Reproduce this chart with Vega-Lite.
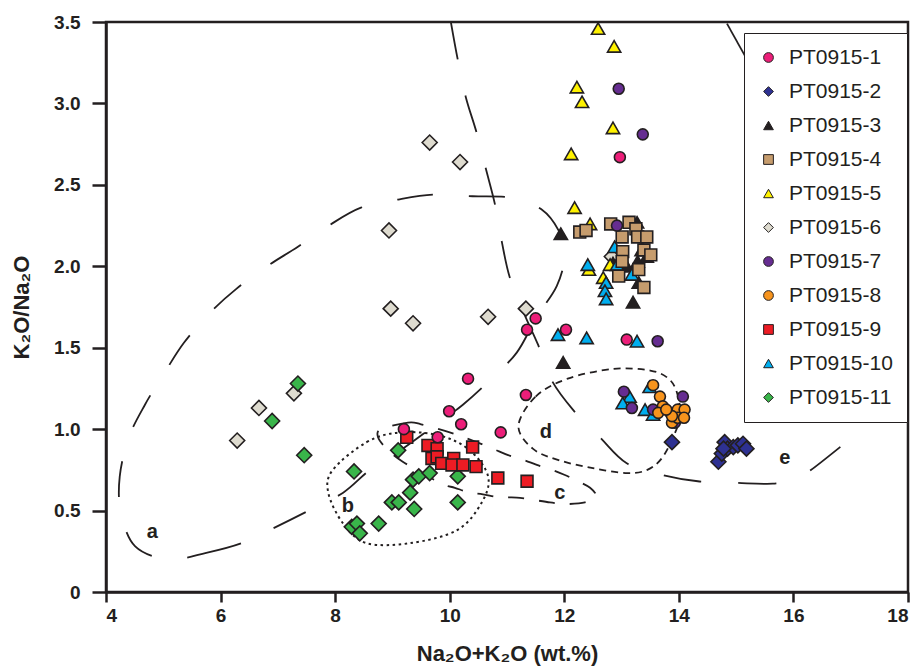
{
  "$schema": "https://vega.github.io/schema/vega-lite/v6.json",
  "width": 802,
  "height": 570,
  "autosize": "none",
  "padding": {"left": 106, "top": 22, "right": 11, "bottom": 75},
  "background": "white",
  "config": {
    "font": "Liberation Sans",
    "view": {"stroke": "#231F20", "strokeWidth": 2.5},
    "axis": {
      "grid": false,
      "domainColor": "#231F20",
      "domainWidth": 2.5,
      "tickColor": "#231F20",
      "tickWidth": 2.5,
      "labelFont": "Liberation Sans",
      "labelFontWeight": "bold",
      "labelFontSize": 19,
      "labelColor": "#231F20",
      "titleFont": "Liberation Sans",
      "titleFontWeight": "bold",
      "titleFontSize": 22,
      "titleColor": "#231F20"
    },
    "legend": {
      "orient": "none",
      "legendX": 638,
      "legendY": 11,
      "padding": 14,
      "strokeColor": "#231F20",
      "fillColor": "white",
      "labelFont": "Liberation Sans",
      "labelFontSize": 21,
      "labelColor": "#231F20",
      "labelLimit": 200,
      "labelOffset": 10,
      "rowPadding": 12,
      "symbolSize": 95,
      "symbolStrokeColor": "#231F20",
      "symbolStrokeWidth": 1
    }
  },
  "datasets": {
    "pts": [
      {"x": 12.97, "y": 2.67, "s": "PT0915-1"}, {"x": 11.35, "y": 1.61, "s": "PT0915-1"}, {"x": 11.5, "y": 1.68, "s": "PT0915-1"}, {"x": 12.03, "y": 1.61, "s": "PT0915-1"}, {"x": 13.09, "y": 1.55, "s": "PT0915-1"}, {"x": 11.33, "y": 1.21, "s": "PT0915-1"}, {"x": 10.89, "y": 0.98, "s": "PT0915-1"}, {"x": 9.99, "y": 1.11, "s": "PT0915-1"}, {"x": 10.2, "y": 1.03, "s": "PT0915-1"}, {"x": 9.2, "y": 1.0, "s": "PT0915-1"}, {"x": 9.79, "y": 0.95, "s": "PT0915-1"}, {"x": 10.32, "y": 1.31, "s": "PT0915-1"},
      {"x": 13.88, "y": 0.92, "s": "PT0915-2"}, {"x": 14.69, "y": 0.8, "s": "PT0915-2"}, {"x": 14.75, "y": 0.85, "s": "PT0915-2"}, {"x": 14.8, "y": 0.92, "s": "PT0915-2"}, {"x": 14.85, "y": 0.88, "s": "PT0915-2"}, {"x": 14.95, "y": 0.89, "s": "PT0915-2"}, {"x": 15.03, "y": 0.9, "s": "PT0915-2"}, {"x": 15.12, "y": 0.91, "s": "PT0915-2"}, {"x": 15.18, "y": 0.88, "s": "PT0915-2"}, {"x": 14.78, "y": 0.88, "s": "PT0915-2"},
      {"x": 11.94, "y": 2.2, "s": "PT0915-3"}, {"x": 11.98, "y": 1.41, "s": "PT0915-3"}, {"x": 13.2, "y": 1.78, "s": "PT0915-3"}, {"x": 13.27, "y": 2.27, "s": "PT0915-3"}, {"x": 13.28, "y": 2.03, "s": "PT0915-3"}, {"x": 13.44, "y": 2.06, "s": "PT0915-3"}, {"x": 13.09, "y": 2.0, "s": "PT0915-3"}, {"x": 13.3, "y": 1.9, "s": "PT0915-3"}, {"x": 12.85, "y": 2.02, "s": "PT0915-3"}, {"x": 13.35, "y": 2.1, "s": "PT0915-3"},
      {"x": 12.27, "y": 2.21, "s": "PT0915-4"}, {"x": 12.38, "y": 2.22, "s": "PT0915-4"}, {"x": 12.81, "y": 2.26, "s": "PT0915-4"}, {"x": 13.13, "y": 2.27, "s": "PT0915-4"}, {"x": 13.25, "y": 2.23, "s": "PT0915-4"}, {"x": 13.01, "y": 2.18, "s": "PT0915-4"}, {"x": 13.28, "y": 2.18, "s": "PT0915-4"}, {"x": 13.44, "y": 2.18, "s": "PT0915-4"}, {"x": 13.02, "y": 2.09, "s": "PT0915-4"}, {"x": 13.39, "y": 2.1, "s": "PT0915-4"}, {"x": 13.51, "y": 2.07, "s": "PT0915-4"}, {"x": 13.01, "y": 2.03, "s": "PT0915-4"}, {"x": 13.3, "y": 1.98, "s": "PT0915-4"}, {"x": 12.95, "y": 1.94, "s": "PT0915-4"}, {"x": 13.39, "y": 1.87, "s": "PT0915-4"},
      {"x": 12.59, "y": 3.46, "s": "PT0915-5"}, {"x": 12.87, "y": 3.35, "s": "PT0915-5"}, {"x": 12.22, "y": 3.1, "s": "PT0915-5"}, {"x": 12.31, "y": 3.01, "s": "PT0915-5"}, {"x": 12.85, "y": 2.85, "s": "PT0915-5"}, {"x": 12.12, "y": 2.69, "s": "PT0915-5"}, {"x": 12.18, "y": 2.36, "s": "PT0915-5"}, {"x": 12.45, "y": 2.26, "s": "PT0915-5"}, {"x": 12.68, "y": 1.93, "s": "PT0915-5"}, {"x": 12.8, "y": 2.01, "s": "PT0915-5"}, {"x": 12.43, "y": 1.98, "s": "PT0915-5"},
      {"x": 9.65, "y": 2.76, "s": "PT0915-6"}, {"x": 10.18, "y": 2.64, "s": "PT0915-6"}, {"x": 8.94, "y": 2.22, "s": "PT0915-6"}, {"x": 8.97, "y": 1.74, "s": "PT0915-6"}, {"x": 9.36, "y": 1.65, "s": "PT0915-6"}, {"x": 10.67, "y": 1.69, "s": "PT0915-6"}, {"x": 11.33, "y": 1.74, "s": "PT0915-6"}, {"x": 7.28, "y": 1.22, "s": "PT0915-6"}, {"x": 6.67, "y": 1.13, "s": "PT0915-6"}, {"x": 6.29, "y": 0.93, "s": "PT0915-6"}, {"x": 12.83, "y": 2.06, "s": "PT0915-6"},
      {"x": 12.95, "y": 3.09, "s": "PT0915-7"}, {"x": 13.37, "y": 2.81, "s": "PT0915-7"}, {"x": 12.92, "y": 2.25, "s": "PT0915-7"}, {"x": 13.63, "y": 1.54, "s": "PT0915-7"}, {"x": 13.04, "y": 1.23, "s": "PT0915-7"}, {"x": 13.18, "y": 1.13, "s": "PT0915-7"}, {"x": 14.07, "y": 1.2, "s": "PT0915-7"}, {"x": 13.55, "y": 1.12, "s": "PT0915-7"}, {"x": 13.93, "y": 1.04, "s": "PT0915-7"},
      {"x": 13.55, "y": 1.27, "s": "PT0915-8"}, {"x": 13.67, "y": 1.2, "s": "PT0915-8"}, {"x": 13.72, "y": 1.14, "s": "PT0915-8"}, {"x": 13.64, "y": 1.1, "s": "PT0915-8"}, {"x": 13.85, "y": 1.1, "s": "PT0915-8"}, {"x": 13.98, "y": 1.12, "s": "PT0915-8"}, {"x": 14.1, "y": 1.12, "s": "PT0915-8"}, {"x": 13.88, "y": 1.04, "s": "PT0915-8"}, {"x": 13.98, "y": 1.07, "s": "PT0915-8"}, {"x": 14.09, "y": 1.07, "s": "PT0915-8"}, {"x": 13.88, "y": 1.08, "s": "PT0915-8"}, {"x": 13.78, "y": 1.12, "s": "PT0915-8"},
      {"x": 9.25, "y": 0.95, "s": "PT0915-9"}, {"x": 9.62, "y": 0.9, "s": "PT0915-9"}, {"x": 9.78, "y": 0.88, "s": "PT0915-9"}, {"x": 9.69, "y": 0.82, "s": "PT0915-9"}, {"x": 9.78, "y": 0.83, "s": "PT0915-9"}, {"x": 9.86, "y": 0.79, "s": "PT0915-9"}, {"x": 10.07, "y": 0.82, "s": "PT0915-9"}, {"x": 10.04, "y": 0.78, "s": "PT0915-9"}, {"x": 10.23, "y": 0.78, "s": "PT0915-9"}, {"x": 10.4, "y": 0.89, "s": "PT0915-9"}, {"x": 10.46, "y": 0.77, "s": "PT0915-9"}, {"x": 10.84, "y": 0.7, "s": "PT0915-9"}, {"x": 11.35, "y": 0.68, "s": "PT0915-9"},
      {"x": 11.89, "y": 1.58, "s": "PT0915-10"}, {"x": 12.39, "y": 1.56, "s": "PT0915-10"}, {"x": 13.27, "y": 1.54, "s": "PT0915-10"}, {"x": 13.49, "y": 1.26, "s": "PT0915-10"}, {"x": 13.14, "y": 1.2, "s": "PT0915-10"}, {"x": 13.02, "y": 1.16, "s": "PT0915-10"}, {"x": 13.41, "y": 1.12, "s": "PT0915-10"}, {"x": 13.55, "y": 1.09, "s": "PT0915-10"}, {"x": 12.41, "y": 2.01, "s": "PT0915-10"}, {"x": 12.88, "y": 2.12, "s": "PT0915-10"}, {"x": 12.92, "y": 2.01, "s": "PT0915-10"}, {"x": 13.18, "y": 1.95, "s": "PT0915-10"}, {"x": 12.73, "y": 1.9, "s": "PT0915-10"}, {"x": 12.71, "y": 1.85, "s": "PT0915-10"}, {"x": 12.73, "y": 1.8, "s": "PT0915-10"},
      {"x": 7.35, "y": 1.28, "s": "PT0915-11"}, {"x": 6.9, "y": 1.05, "s": "PT0915-11"}, {"x": 7.46, "y": 0.84, "s": "PT0915-11"}, {"x": 8.33, "y": 0.74, "s": "PT0915-11"}, {"x": 9.1, "y": 0.87, "s": "PT0915-11"}, {"x": 8.29, "y": 0.4, "s": "PT0915-11"}, {"x": 8.38, "y": 0.42, "s": "PT0915-11"}, {"x": 8.43, "y": 0.36, "s": "PT0915-11"}, {"x": 8.76, "y": 0.42, "s": "PT0915-11"}, {"x": 8.99, "y": 0.55, "s": "PT0915-11"}, {"x": 9.11, "y": 0.55, "s": "PT0915-11"}, {"x": 9.31, "y": 0.61, "s": "PT0915-11"}, {"x": 9.38, "y": 0.51, "s": "PT0915-11"}, {"x": 9.36, "y": 0.69, "s": "PT0915-11"}, {"x": 9.46, "y": 0.71, "s": "PT0915-11"}, {"x": 9.65, "y": 0.73, "s": "PT0915-11"}, {"x": 10.14, "y": 0.71, "s": "PT0915-11"}, {"x": 10.14, "y": 0.55, "s": "PT0915-11"}
    ],
    "fieldA": [
      {"i": 1, "x": 5.1, "y": 0.2}, {"i": 2, "x": 5.75, "y": 0.24}, {"i": 3, "x": 6.37, "y": 0.3}, {"i": 4, "x": 6.97, "y": 0.4}, {"i": 5, "x": 7.54, "y": 0.5}, {"i": 6, "x": 8.14, "y": 0.61}, {"i": 7, "x": 8.61, "y": 0.75}, {"i": 8, "x": 9.18, "y": 0.88}, {"i": 9, "x": 9.69, "y": 1.01}, {"i": 10, "x": 10.23, "y": 1.15}, {"i": 11, "x": 10.7, "y": 1.3}, {"i": 12, "x": 11.17, "y": 1.47}, {"i": 13, "x": 11.52, "y": 1.69}, {"i": 14, "x": 11.87, "y": 1.88}, {"i": 15, "x": 12.01, "y": 2.07}, {"i": 16, "x": 11.9, "y": 2.22}, {"i": 17, "x": 11.6, "y": 2.35}, {"i": 18, "x": 11.1, "y": 2.42}, {"i": 19, "x": 10.4, "y": 2.43}, {"i": 20, "x": 9.72, "y": 2.44}, {"i": 21, "x": 9.1, "y": 2.41}, {"i": 22, "x": 8.45, "y": 2.36}, {"i": 23, "x": 7.89, "y": 2.25}, {"i": 24, "x": 7.35, "y": 2.12}, {"i": 25, "x": 6.81, "y": 2.0}, {"i": 26, "x": 6.27, "y": 1.86}, {"i": 27, "x": 5.8, "y": 1.71}, {"i": 28, "x": 5.36, "y": 1.53}, {"i": 29, "x": 5.01, "y": 1.34}, {"i": 30, "x": 4.68, "y": 1.15}, {"i": 31, "x": 4.4, "y": 0.95}, {"i": 32, "x": 4.24, "y": 0.71}, {"i": 33, "x": 4.26, "y": 0.49}, {"i": 34, "x": 4.51, "y": 0.28}
    ],
    "fieldB": [
      {"i": 1, "x": 7.96, "y": 0.75}, {"i": 2, "x": 8.55, "y": 0.92}, {"i": 3, "x": 9.13, "y": 0.98}, {"i": 4, "x": 9.83, "y": 0.96}, {"i": 5, "x": 10.35, "y": 0.87}, {"i": 6, "x": 10.67, "y": 0.71}, {"i": 7, "x": 10.56, "y": 0.55}, {"i": 8, "x": 10.13, "y": 0.38}, {"i": 9, "x": 9.31, "y": 0.3}, {"i": 10, "x": 8.55, "y": 0.3}, {"i": 11, "x": 8.14, "y": 0.42}, {"i": 12, "x": 7.88, "y": 0.61}
    ],
    "fieldC": [
      {"i": 1, "x": 8.8, "y": 1.0}, {"i": 2, "x": 9.27, "y": 1.04}, {"i": 3, "x": 9.5, "y": 1.03}, {"i": 4, "x": 10.0, "y": 0.98}, {"i": 5, "x": 10.4, "y": 0.93}, {"i": 6, "x": 10.75, "y": 0.88}, {"i": 7, "x": 11.02, "y": 0.84}, {"i": 8, "x": 11.3, "y": 0.81}, {"i": 9, "x": 11.52, "y": 0.78}, {"i": 10, "x": 11.78, "y": 0.75}, {"i": 11, "x": 12.0, "y": 0.72}, {"i": 12, "x": 12.24, "y": 0.68}, {"i": 13, "x": 12.45, "y": 0.64}, {"i": 14, "x": 12.55, "y": 0.59}, {"i": 15, "x": 12.36, "y": 0.55}, {"i": 16, "x": 12.0, "y": 0.54}, {"i": 17, "x": 11.75, "y": 0.55}, {"i": 18, "x": 11.17, "y": 0.58}, {"i": 19, "x": 10.88, "y": 0.58}, {"i": 20, "x": 10.58, "y": 0.6}, {"i": 21, "x": 10.35, "y": 0.61}, {"i": 22, "x": 10.09, "y": 0.64}, {"i": 23, "x": 9.83, "y": 0.67}, {"i": 24, "x": 9.18, "y": 0.8}, {"i": 25, "x": 8.9, "y": 0.88}, {"i": 26, "x": 8.75, "y": 0.95}
    ],
    "fieldD": [
      {"i": 1, "x": 11.2, "y": 1.02}, {"i": 2, "x": 11.5, "y": 1.2}, {"i": 3, "x": 12.06, "y": 1.31}, {"i": 4, "x": 12.86, "y": 1.37}, {"i": 5, "x": 13.5, "y": 1.36}, {"i": 6, "x": 13.82, "y": 1.31}, {"i": 7, "x": 13.97, "y": 1.22}, {"i": 8, "x": 14.02, "y": 1.08}, {"i": 9, "x": 13.9, "y": 0.95}, {"i": 10, "x": 13.7, "y": 0.82}, {"i": 11, "x": 13.45, "y": 0.75}, {"i": 12, "x": 13.1, "y": 0.73}, {"i": 13, "x": 12.5, "y": 0.76}, {"i": 14, "x": 11.9, "y": 0.81}, {"i": 15, "x": 11.45, "y": 0.88}
    ],
    "fieldE": [
      {"i": 1, "x": 10.02, "y": 3.5}, {"i": 2, "x": 10.14, "y": 3.27}, {"i": 3, "x": 10.28, "y": 3.04}, {"i": 4, "x": 10.47, "y": 2.82}, {"i": 5, "x": 10.63, "y": 2.6}, {"i": 6, "x": 10.79, "y": 2.38}, {"i": 7, "x": 10.91, "y": 2.15}, {"i": 8, "x": 11.05, "y": 1.93}, {"i": 9, "x": 11.31, "y": 1.7}, {"i": 10, "x": 11.54, "y": 1.52}, {"i": 11, "x": 11.78, "y": 1.3}, {"i": 12, "x": 12.15, "y": 1.12}, {"i": 13, "x": 12.62, "y": 0.95}, {"i": 14, "x": 13.09, "y": 0.79}, {"i": 15, "x": 13.7, "y": 0.72}, {"i": 16, "x": 14.33, "y": 0.68}, {"i": 17, "x": 15.01, "y": 0.67}, {"i": 18, "x": 15.64, "y": 0.665}, {"i": 19, "x": 16.0, "y": 0.69}, {"i": 20, "x": 16.27, "y": 0.74}, {"i": 21, "x": 16.85, "y": 0.9}
    ],
    "fieldF": [
      {"i": 1, "x": 14.84, "y": 3.49}, {"i": 2, "x": 15.3, "y": 3.2}
    ],
    "labels": [
      {"x": 4.81, "y": 0.37, "t": "a"}, {"x": 8.22, "y": 0.53, "t": "b"}, {"x": 11.92, "y": 0.61, "t": "c"}, {"x": 11.68, "y": 0.98, "t": "d"}, {"x": 15.85, "y": 0.82, "t": "e"}
    ]
  },
  "encoding": {
    "x": {
      "field": "x", "type": "quantitative",
      "scale": {"domain": [4, 18], "nice": false, "zero": false},
      "axis": {"values": [4, 6, 8, 10, 12, 14, 16, 18], "format": "d", "tickSize": 10, "labelPadding": 4, "title": "Na₂O+K₂O (wt.%)", "titlePadding": 18}
    },
    "y": {
      "field": "y", "type": "quantitative",
      "scale": {"domain": [0, 3.5], "nice": false},
      "axis": {"values": [0, 0.5, 1, 1.5, 2, 2.5, 3, 3.5], "labelExpr": "datum.value == 0 ? '0' : format(datum.value, '.1f')", "tickSize": 14, "labelPadding": 12, "title": "K₂O/Na₂O", "titlePadding": 20}
    }
  },
  "layer": [
    {
      "data": {"name": "fieldA"},
      "mark": {"type": "line", "interpolate": "cardinal-closed", "strokeDash": [36, 36], "strokeWidth": 1.8, "color": "#231F20", "clip": true},
      "encoding": {"order": {"field": "i", "type": "quantitative"}}
    },
    {
      "data": {"name": "fieldB"},
      "mark": {"type": "line", "interpolate": "cardinal-closed", "strokeDash": [2.5, 3.5], "strokeWidth": 2, "color": "#231F20", "clip": true},
      "encoding": {"order": {"field": "i", "type": "quantitative"}}
    },
    {
      "data": {"name": "fieldC"},
      "mark": {"type": "line", "interpolate": "cardinal-closed", "strokeDash": [16, 15], "strokeWidth": 1.8, "color": "#231F20", "clip": true},
      "encoding": {"order": {"field": "i", "type": "quantitative"}}
    },
    {
      "data": {"name": "fieldD"},
      "mark": {"type": "line", "interpolate": "cardinal-closed", "strokeDash": [7, 5], "strokeWidth": 1.8, "color": "#231F20", "clip": true},
      "encoding": {"order": {"field": "i", "type": "quantitative"}}
    },
    {
      "data": {"name": "fieldE"},
      "mark": {"type": "line", "interpolate": "cardinal", "strokeDash": [38, 37], "strokeWidth": 1.8, "color": "#231F20", "clip": true},
      "encoding": {"order": {"field": "i", "type": "quantitative"}}
    },
    {
      "data": {"name": "fieldF"},
      "mark": {"type": "line", "strokeWidth": 1.8, "color": "#231F20", "clip": true},
      "encoding": {"order": {"field": "i", "type": "quantitative"}}
    },
    {
      "data": {"name": "labels"},
      "mark": {"type": "text", "fontSize": 20, "fontWeight": "bold", "font": "Liberation Sans", "color": "#231F20"},
      "encoding": {"text": {"field": "t"}}
    },
    {
      "data": {"name": "pts"},
      "transform": [{"filter": {"field": "s", "oneOf": ["PT0915-2", "PT0915-6", "PT0915-11"]}}],
      "mark": {"type": "point", "filled": true, "opacity": 1, "stroke": "#231F20", "strokeWidth": 1.6, "size": 225},
      "encoding": {
        "color": {"field": "s", "type": "nominal", "scale": {"domain": ["PT0915-1", "PT0915-2", "PT0915-3", "PT0915-4", "PT0915-5", "PT0915-6", "PT0915-7", "PT0915-8", "PT0915-9", "PT0915-10", "PT0915-11"], "range": ["#EC1E79", "#2E3192", "#231F20", "#C69C6D", "#FFF200", "#DEDBCF", "#662D91", "#F7941D", "#ED1C24", "#00AEEF", "#39B54A"]}, "legend": {"title": null}},
        "shape": {"field": "s", "type": "nominal", "scale": {"domain": ["PT0915-1", "PT0915-2", "PT0915-3", "PT0915-4", "PT0915-5", "PT0915-6", "PT0915-7", "PT0915-8", "PT0915-9", "PT0915-10", "PT0915-11"], "range": ["circle", "diamond", "triangle-up", "square", "triangle-up", "diamond", "circle", "circle", "square", "triangle-up", "diamond"]}, "legend": {"title": null}}
      }
    },
    {
      "data": {"name": "pts"},
      "transform": [{"filter": {"field": "s", "oneOf": ["PT0915-3", "PT0915-5", "PT0915-10"]}}],
      "mark": {"type": "point", "filled": true, "opacity": 1, "stroke": "#231F20", "strokeWidth": 1.6, "size": 175},
      "encoding": {
        "color": {"field": "s", "type": "nominal", "scale": {"domain": ["PT0915-1", "PT0915-2", "PT0915-3", "PT0915-4", "PT0915-5", "PT0915-6", "PT0915-7", "PT0915-8", "PT0915-9", "PT0915-10", "PT0915-11"], "range": ["#EC1E79", "#2E3192", "#231F20", "#C69C6D", "#FFF200", "#DEDBCF", "#662D91", "#F7941D", "#ED1C24", "#00AEEF", "#39B54A"]}, "legend": {"title": null}},
        "shape": {"field": "s", "type": "nominal", "scale": {"domain": ["PT0915-1", "PT0915-2", "PT0915-3", "PT0915-4", "PT0915-5", "PT0915-6", "PT0915-7", "PT0915-8", "PT0915-9", "PT0915-10", "PT0915-11"], "range": ["circle", "diamond", "triangle-up", "square", "triangle-up", "diamond", "circle", "circle", "square", "triangle-up", "diamond"]}, "legend": {"title": null}}
      }
    },
    {
      "data": {"name": "pts"},
      "transform": [{"filter": {"field": "s", "oneOf": ["PT0915-4", "PT0915-9"]}}],
      "mark": {"type": "point", "filled": true, "opacity": 1, "stroke": "#231F20", "strokeWidth": 1.6, "size": 140},
      "encoding": {
        "color": {"field": "s", "type": "nominal", "scale": {"domain": ["PT0915-1", "PT0915-2", "PT0915-3", "PT0915-4", "PT0915-5", "PT0915-6", "PT0915-7", "PT0915-8", "PT0915-9", "PT0915-10", "PT0915-11"], "range": ["#EC1E79", "#2E3192", "#231F20", "#C69C6D", "#FFF200", "#DEDBCF", "#662D91", "#F7941D", "#ED1C24", "#00AEEF", "#39B54A"]}, "legend": {"title": null}},
        "shape": {"field": "s", "type": "nominal", "scale": {"domain": ["PT0915-1", "PT0915-2", "PT0915-3", "PT0915-4", "PT0915-5", "PT0915-6", "PT0915-7", "PT0915-8", "PT0915-9", "PT0915-10", "PT0915-11"], "range": ["circle", "diamond", "triangle-up", "square", "triangle-up", "diamond", "circle", "circle", "square", "triangle-up", "diamond"]}, "legend": {"title": null}}
      }
    },
    {
      "data": {"name": "pts"},
      "transform": [{"filter": {"field": "s", "oneOf": ["PT0915-1", "PT0915-7", "PT0915-8"]}}],
      "mark": {"type": "point", "filled": true, "opacity": 1, "stroke": "#231F20", "strokeWidth": 1.6, "size": 120},
      "encoding": {
        "color": {"field": "s", "type": "nominal", "scale": {"domain": ["PT0915-1", "PT0915-2", "PT0915-3", "PT0915-4", "PT0915-5", "PT0915-6", "PT0915-7", "PT0915-8", "PT0915-9", "PT0915-10", "PT0915-11"], "range": ["#EC1E79", "#2E3192", "#231F20", "#C69C6D", "#FFF200", "#DEDBCF", "#662D91", "#F7941D", "#ED1C24", "#00AEEF", "#39B54A"]}, "legend": {"title": null}},
        "shape": {"field": "s", "type": "nominal", "scale": {"domain": ["PT0915-1", "PT0915-2", "PT0915-3", "PT0915-4", "PT0915-5", "PT0915-6", "PT0915-7", "PT0915-8", "PT0915-9", "PT0915-10", "PT0915-11"], "range": ["circle", "diamond", "triangle-up", "square", "triangle-up", "diamond", "circle", "circle", "square", "triangle-up", "diamond"]}, "legend": {"title": null}}
      }
    }
  ]
}
